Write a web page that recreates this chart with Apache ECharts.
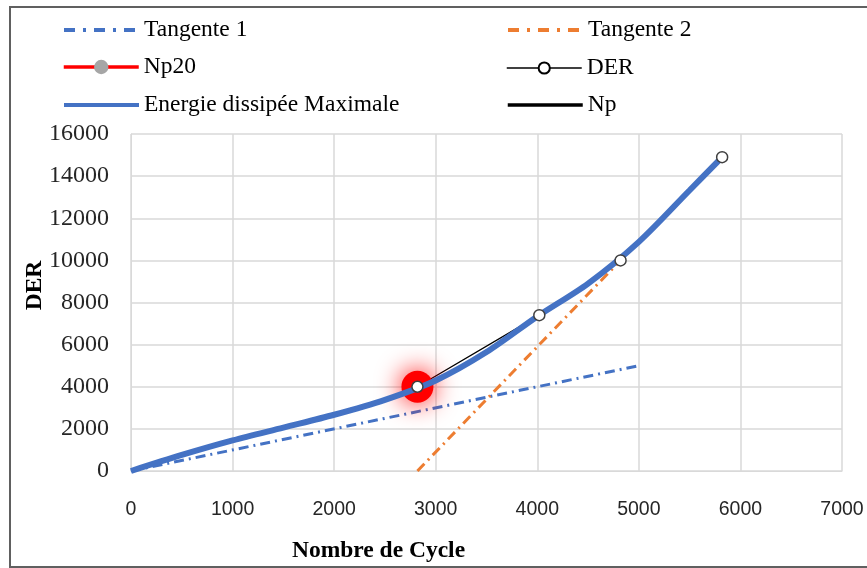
<!DOCTYPE html>
<html>
<head>
<meta charset="utf-8">
<script src="https://cdn.jsdelivr.net/npm/echarts@6/dist/echarts.min.js"></script>
<style>
  html, body { margin: 0; padding: 0; background: #fff; }
  #chart { width: 867px; height: 568px; }
</style>
</head>
<body>
<div id="chart"></div>
<script>
// Measured DER values (cycles, energy)
const derCycles = [2820, 4020, 4820, 5820];
const derValues = [4000, 7400, 10000, 14900];

// Smoothed envelope of maximal dissipated energy
const maxCycles = [0, 500, 1000, 1500, 2000, 2500, 3000, 3500, 4000, 4500, 5000, 5500, 5820];
const maxValues = [0, 760, 1450, 2060, 2670, 3380, 4300, 5650, 7340, 8900, 10880, 13330, 14900];

// Tangent lines
const tan1Cycles = [0, 5000];
const tan1Values = [0, 5000];
const tan2Cycles = [2820, 4800];
const tan2Values = [0, 9900];

// Np20 point
const np20Cycles = [2820];
const np20Values = [4000];

// Np
const npCycles = [2820];
const npValues = [4000];

const xTicks = { min: 0, max: 7000, step: 1000 };
const yTicks = { min: 0, max: 16000, step: 2000 };

const zip = (xs, ys) => xs.map((x, i) => [x, ys[i]]);

const serif = '"Liberation Serif", "Times New Roman", serif';
const sans = '"Liberation Sans", Arial, sans-serif';
const blue = '#4472C4';
const orange = '#ED7D31';
const dashDot = [10, 5, 2, 5];

const chart = echarts.init(document.getElementById('chart'), null, { renderer: 'canvas' });

// line-only legend entries hide the marker dot
const noDot = { opacity: 0 };

function legendAt(item, left, top, itemHeight) {
  return {
    left: left, top: top,
    data: [item],
    itemWidth: 75, itemHeight: itemHeight || 14,
    textStyle: { fontFamily: serif, fontSize: 23.5, color: '#000' },
    selectedMode: false
  };
}

chart.setOption({
  animation: false,
  backgroundColor: '#fff',
  graphic: [{
    type: 'rect',
    shape: { x: 10, y: 7, width: 900, height: 560 },
    style: { fill: 'none', stroke: '#606060', lineWidth: 2 },
    silent: true
  }],
  legend: [
    legendAt({ name: 'Tangente 1', itemStyle: noDot, lineStyle: { width: 4, type: [11, 8, 3, 8] } }, 57, 13),
    legendAt({ name: 'Tangente 2', itemStyle: noDot, lineStyle: { width: 4, type: [11, 8, 3, 8] } }, 501, 13),
    legendAt({ name: 'Np20', itemStyle: { color: '#a6a6a6', shadowBlur: 0, borderWidth: 0 }, lineStyle: { color: '#ff0000', width: 3.5 } }, 57, 50, 18),
    legendAt({ name: 'DER', lineStyle: { width: 1.5 } }, 501, 51),
    legendAt({ name: 'Energie dissipée Maximale', itemStyle: noDot, lineStyle: { width: 4 } }, 57, 88),
    legendAt({ name: 'Np', itemStyle: noDot, lineStyle: { width: 3.5 } }, 501, 88)
  ],
  grid: { left: 131, top: 134, right: 25, bottom: 95, containLabel: false },
  xAxis: {
    type: 'value',
    min: xTicks.min, max: xTicks.max, interval: xTicks.step,
    name: 'Nombre de Cycle',
    nameLocation: 'middle', nameGap: 68,
    nameTextStyle: { fontFamily: serif, fontWeight: 'bold', fontSize: 23.5, color: '#000', padding: [0, 216, 0, 0] },
    axisLine: { show: true, lineStyle: { color: '#d9d9d9', width: 1 } },
    axisTick: { show: false },
    axisLabel: { fontFamily: sans, fontSize: 19.5, color: '#262626', margin: 29, formatter: v => String(v) },
    splitLine: { show: true, lineStyle: { color: '#d9d9d9', width: 1.5 } }
  },
  yAxis: {
    type: 'value',
    min: yTicks.min, max: yTicks.max, interval: yTicks.step,
    name: 'DER',
    nameLocation: 'middle', nameGap: 84,
    nameMoveOverlap: false,
    nameTextStyle: { fontFamily: serif, fontWeight: 'bold', fontSize: 23.5, color: '#000', padding: [0, 0, 0, 34] },
    axisLine: { show: true, lineStyle: { color: '#d9d9d9', width: 1 } },
    axisTick: { show: false },
    axisLabel: { fontFamily: serif, fontSize: 24, color: '#262626', margin: 22, formatter: v => String(v) },
    splitLine: { show: true, lineStyle: { color: '#d9d9d9', width: 1.5 } }
  },
  series: [
    {
      name: 'Tangente 1', type: 'line', symbol: 'none', z: 2,
      data: zip(tan1Cycles, tan1Values),
      lineStyle: { color: blue, width: 3, type: dashDot },
      itemStyle: { color: blue }
    },
    {
      name: 'Tangente 2', type: 'line', symbol: 'none', z: 2,
      data: zip(tan2Cycles, tan2Values),
      lineStyle: { color: orange, width: 3, type: dashDot },
      itemStyle: { color: orange }
    },
    {
      name: 'Np20', type: 'line', symbol: 'circle', symbolSize: 32, z: 3,
      data: zip(np20Cycles, np20Values),
      lineStyle: { color: '#ff0000', width: 3 },
      itemStyle: { color: '#ff0000', shadowBlur: 26, shadowColor: '#ff0000' }
    },
    {
      name: 'DER', type: 'line', symbol: 'circle', symbolSize: 11, showSymbol: false, z: 3,
      data: zip(derCycles, derValues),
      lineStyle: { color: '#000', width: 1.3 },
      itemStyle: { color: '#fff', borderColor: '#000', borderWidth: 1.5 }
    },
    {
      name: 'Energie dissipée Maximale', type: 'line', symbol: 'none', smooth: 0.3, z: 4,
      data: zip(maxCycles, maxValues),
      lineStyle: { color: blue, width: 6 },
      itemStyle: { color: blue }
    },
    {
      name: 'DER', type: 'scatter', symbol: 'circle', symbolSize: 11, z: 5,
      data: zip(derCycles, derValues),
      itemStyle: { color: '#fff', borderColor: '#404040', borderWidth: 1.5, opacity: 1 }
    },
    {
      name: 'Np', type: 'line', symbol: 'none', z: 1,
      data: zip(npCycles, npValues),
      lineStyle: { color: '#000', width: 3 },
      itemStyle: { color: '#000' }
    }
  ]
});
</script>
</body>
</html>
